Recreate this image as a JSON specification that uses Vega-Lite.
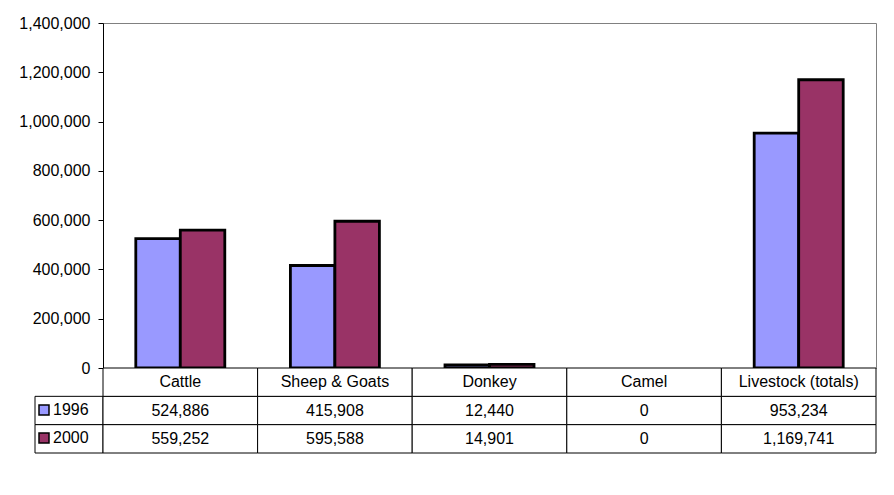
{
  "$schema": "https://vega.github.io/schema/vega-lite/v6.json",
  "padding": {"left": 18, "top": 14, "right": 0, "bottom": 0},
  "autosize": {"type": "pad"},
  "background": "white",
  "config": {"font": "Liberation Sans"},
  "datasets": {
    "main": [
      {"category": "Cattle", "year": "1996", "value": 524886},
      {"category": "Cattle", "year": "2000", "value": 559252},
      {"category": "Sheep & Goats", "year": "1996", "value": 415908},
      {"category": "Sheep & Goats", "year": "2000", "value": 595588},
      {"category": "Donkey", "year": "1996", "value": 12440},
      {"category": "Donkey", "year": "2000", "value": 14901},
      {"category": "Camel", "year": "1996", "value": 0},
      {"category": "Camel", "year": "2000", "value": 0},
      {"category": "Livestock (totals)", "year": "1996", "value": 953234},
      {"category": "Livestock (totals)", "year": "2000", "value": 1169741}
    ]
  },
  "columns": 2,
  "spacing": 0,
  "bounds": "flush",
  "resolve": {"legend": {"fill": "independent"}, "scale": {"fill": "independent", "color": "independent", "x": "independent", "y": "independent"}},
  "concat": [
    {
      "width": 68,
      "height": 345,
      "data": {"values": []},
      "mark": "point",
      "view": {"stroke": null}
    },
    {
      "width": 773,
      "height": 345,
      "data": {"name": "main"},
      "view": {"stroke": "#808080"},
      "mark": {"type": "bar", "stroke": "black", "strokeWidth": 2.8},
      "encoding": {
        "x": {"field": "category", "type": "nominal", "sort": ["Cattle", "Sheep & Goats", "Donkey", "Camel", "Livestock (totals)"], "scale": {"paddingInner": 0, "paddingOuter": 0}, "axis": null},
        "xOffset": {"field": "year", "type": "nominal", "scale": {"paddingInner": 0, "paddingOuter": 0.737}},
        "y": {
          "field": "value", "type": "quantitative",
          "scale": {"domain": [0, 1400000], "nice": false},
          "axis": {"values": [0, 200000, 400000, 600000, 800000, 1000000, 1200000, 1400000], "format": ",.0f", "title": null, "grid": false, "tickSize": 5, "labelPadding": 8, "labelFontSize": 16, "labelFont": "Liberation Sans", "labelColor": "black", "tickColor": "black", "domainColor": "black"}
        },
        "color": {"field": "year", "type": "nominal", "scale": {"domain": ["1996", "2000"], "range": ["#9999FF", "#993366"]}, "legend": null},
        "strokeOpacity": {"condition": {"test": "datum.value == 0", "value": 0}, "value": 1}
      }
    },
    {
      "width": 68,
      "height": 85,
      "data": {"name": "main"},
      "view": {"stroke": null},
      "layer": [
        {
          "transform": [{"filter": "datum.category == 'Cattle'"}],
          "mark": {"type": "rect", "fill": "white", "stroke": "black", "strokeWidth": 1},
          "encoding": {
            "y": {"field": "year", "type": "nominal", "scale": {"domain": ["h", "1996", "2000"], "paddingInner": 0, "paddingOuter": 0}, "axis": null}
          }
        },
        {
          "mark": {"type": "square", "opacity": 0},
          "encoding": {
            "fill": {
              "field": "year", "type": "nominal",
              "scale": {"domain": ["1996", "2000"], "range": ["#9999FF", "#993366"]},
              "legend": {"orient": "none", "legendX": 1, "legendY": 34, "title": null, "symbolType": "square", "symbolSize": 100, "symbolStrokeColor": "black", "symbolStrokeWidth": 1.5, "symbolOpacity": 1, "labelFontSize": 16, "labelFont": "Liberation Sans", "labelColor": "black", "labelOffset": 1, "rowPadding": 12, "padding": 0}
            }
          }
        }
      ]
    },
    {
      "width": 773,
      "height": 85,
      "data": {"name": "main"},
      "view": {"stroke": null},
      "encoding": {
        "x": {"field": "category", "type": "nominal", "sort": ["Cattle", "Sheep & Goats", "Donkey", "Camel", "Livestock (totals)"], "scale": {"paddingInner": 0, "paddingOuter": 0}, "axis": null}
      },
      "layer": [
        {
          "mark": {"type": "rect", "fill": "white", "stroke": "black", "strokeWidth": 1},
          "encoding": {
            "y": {"field": "year", "type": "nominal", "scale": {"domain": ["h", "1996", "2000"], "paddingInner": 0, "paddingOuter": 0}, "axis": null}
          }
        },
        {
          "transform": [{"filter": "datum.year == '1996'"}],
          "mark": {"type": "rect", "fill": "white", "stroke": "black", "strokeWidth": 1},
          "encoding": {"y": {"datum": "h", "type": "nominal"}}
        },
        {
          "mark": {"type": "text", "fontSize": 16, "font": "Liberation Sans", "color": "black"},
          "encoding": {
            "y": {"field": "year", "type": "nominal"},
            "text": {"field": "value", "type": "quantitative", "format": ",.0f"}
          }
        },
        {
          "transform": [{"filter": "datum.year == '1996'"}],
          "mark": {"type": "text", "fontSize": 16, "font": "Liberation Sans", "color": "black"},
          "encoding": {
            "y": {"datum": "h", "type": "nominal"},
            "text": {"field": "category", "type": "nominal"}
          }
        }
      ]
    }
  ]
}
